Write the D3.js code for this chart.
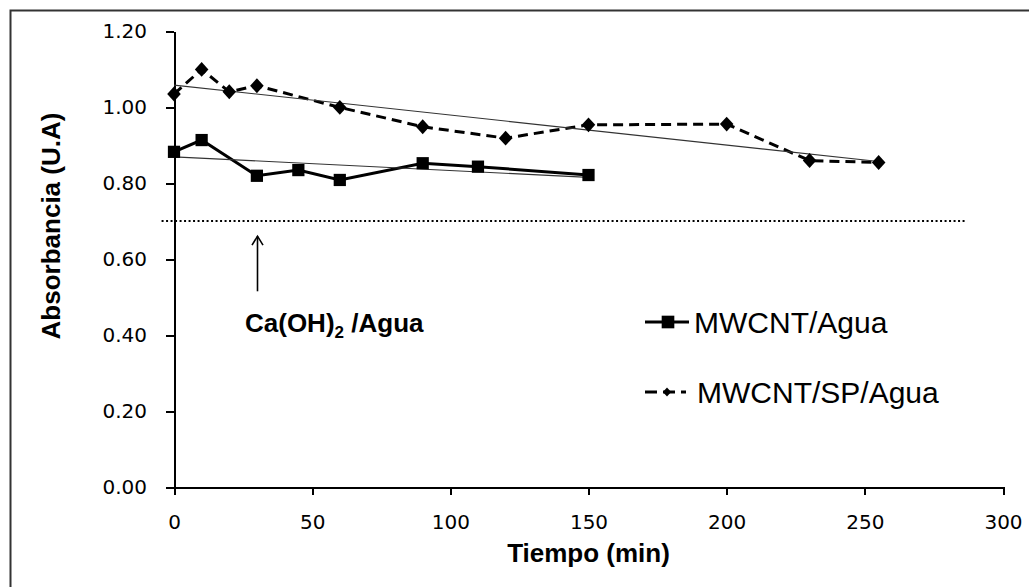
<!DOCTYPE html>
<html>
<head>
<meta charset="utf-8">
<script src="https://cdn.jsdelivr.net/npm/d3@7"></script>
<style>
    body { margin: 0; background: #fff; }
    svg { display: block; }
    .axis path, .axis line { stroke: #000; stroke-width: 2; shape-rendering: crispEdges; }
    .axis text { font-family: "DejaVu Sans", sans-serif; font-size: 20px; fill: #000; }
    .title { font-family: "Liberation Sans", Arial, sans-serif; font-weight: bold; font-size: 26px; }
</style>
</head>
<body>
<div id="chart"></div>
<script>
// MWCNT/Agua series
var timesAgua = [0, 10, 30, 45, 60, 90, 110, 150];
var absAgua = [0.882, 0.913, 0.819, 0.834, 0.808, 0.852, 0.843, 0.821];

// MWCNT/SP/Agua series
var timesSP = [0, 10, 20, 30, 60, 90, 120, 150, 200, 230, 255];
var absSP = [1.034, 1.099, 1.040, 1.056, 0.999, 0.948, 0.918, 0.953, 0.955, 0.859, 0.854];

var seriesNames = ['MWCNT/Agua', 'MWCNT/SP/Agua'];
var xTicks = [0, 50, 100, 150, 200, 250, 300];
var yTicks = [0, 0.2, 0.4, 0.6, 0.8, 1.0, 1.2];

// Ca(OH)2/Agua reference level, its dotted line span and the arrow
var refLevel = 0.70;
var refSpan = [-4.5, 287];
var arrowTime = 30;
var arrowSpan = [0.515, 0.66];

var W = 1029, H = 587;
var X0 = 174, X1 = 1003, Y0 = 487, Y1 = 31;

var x = d3.scaleLinear().domain([0, 300]).range([X0, X1]);
var y = d3.scaleLinear().domain([0, 1.2]).range([Y0, Y1]);

function zip(xs, ys) {
    return xs.map(function(t, i) { return { t: t, v: ys[i] }; });
}

// least-squares fit, like the spreadsheet's linear trendline
function linearFit(xs, ys) {
    var mx = d3.mean(xs), my = d3.mean(ys);
    var sxy = d3.sum(xs, function(t, i) { return (t - mx) * (ys[i] - my); });
    var sxx = d3.sum(xs, function(t) { return (t - mx) * (t - mx); });
    var slope = sxy / sxx;
    var icpt = my - slope * mx;
    var ext = d3.extent(xs);
    return [{ t: ext[0], v: icpt + slope * ext[0] }, { t: ext[1], v: icpt + slope * ext[1] }];
}

var series = [
    { name: seriesNames[0], points: zip(timesAgua, absAgua), fit: linearFit(timesAgua, absAgua), dash: null, diamond: false, size: 150 },
    { name: seriesNames[1], points: zip(timesSP, absSP), fit: linearFit(timesSP, absSP), dash: '10,6', diamond: true, size: 92 }
];

var svg = d3.select('#chart').append('svg')
    .attr('width', W)
    .attr('height', H);

svg.append('rect')
    .attr('width', W).attr('height', H)
    .attr('fill', '#fff');

// chart frame (right and bottom edges are off the picture)
svg.append('rect')
    .attr('x', 10.5).attr('y', 10.5)
    .attr('width', W + 20).attr('height', H + 20)
    .attr('fill', 'none')
    .attr('stroke', '#333')
    .attr('stroke-width', 2);

var line = d3.line()
    .x(function(d) { return x(d.t); })
    .y(function(d) { return y(d.v); });

// axes
svg.append('g')
    .attr('class', 'axis')
    .attr('transform', 'translate(0,' + Y0 + ')')
    .call(d3.axisBottom(x).tickValues(xTicks).tickSizeInner(8).tickSizeOuter(0).tickPadding(20));

svg.append('g')
    .attr('class', 'axis')
    .attr('transform', 'translate(' + X0 + ',0)')
    .call(d3.axisLeft(y).tickValues(yTicks).tickFormat(d3.format('.2f')).tickSizeInner(8).tickSizeOuter(0).tickPadding(19));

// dotted reference level
svg.append('line')
    .attr('x1', x(refSpan[0])).attr('x2', x(refSpan[1]))
    .attr('y1', y(refLevel)).attr('y2', y(refLevel))
    .attr('stroke', '#000')
    .attr('stroke-width', 2)
    .attr('stroke-dasharray', '2,2.5');

// arrow pointing up at the reference line
var ax = Math.round(x(arrowTime)) + 0.5;
svg.append('line')
    .attr('x1', ax).attr('x2', ax)
    .attr('y1', y(arrowSpan[0])).attr('y2', y(arrowSpan[1]))
    .attr('stroke', '#000').attr('stroke-width', 1.6);
svg.append('path')
    .attr('d', 'M' + (ax - 5.5) + ',' + (y(arrowSpan[1]) + 9) + 'L' + ax + ',' + y(arrowSpan[1]) + 'L' + (ax + 5.5) + ',' + (y(arrowSpan[1]) + 9))
    .attr('fill', 'none').attr('stroke', '#000').attr('stroke-width', 1.6);

var note = svg.append('text')
    .attr('class', 'title')
    .attr('x', 245).attr('y', 332);
note.append('tspan').text('Ca(OH)');
note.append('tspan').attr('dy', 6).attr('font-size', 17).text('2');
note.append('tspan').attr('dy', -6).text(' /Agua');

// series lines, trendlines and markers
var sg = svg.selectAll('g.series')
    .data(series)
  .enter().append('g')
    .attr('class', 'series');

sg.append('path')
    .attr('d', function(d) { return line(d.points); })
    .attr('fill', 'none')
    .attr('stroke', '#000')
    .attr('stroke-width', 3)
    .attr('stroke-dasharray', function(d) { return d.dash; });

sg.append('path')
    .attr('d', function(d) { return line(d.fit); })
    .attr('fill', 'none')
    .attr('stroke', '#333')
    .attr('stroke-width', 1.1);

// diamonds are squares turned 45deg, a bit taller than wide
function markTransform(s, px, py) {
    return 'translate(' + px + ',' + py + ')' + (s.diamond ? ' scale(1,1.1) rotate(45)' : '');
}

sg.each(function(s) {
    d3.select(this).selectAll('path.mark')
        .data(s.points)
      .enter().append('path')
        .attr('class', 'mark')
        .attr('transform', function(d) { return markTransform(s, x(d.t), y(d.v)); })
        .attr('d', d3.symbol().type(d3.symbolSquare).size(s.size))
        .attr('fill', '#000');
});

// legend
var legend = svg.selectAll('g.legend')
    .data(series)
  .enter().append('g')
    .attr('class', 'legend')
    .attr('transform', function(d, i) { return 'translate(645,' + (322 + i * 70) + ')'; });

legend.append('line')
    .attr('x1', 0).attr('x2', function(d, i) { return i ? 41 : 44; })
    .attr('y1', 0).attr('y2', 0)
    .attr('stroke', '#000')
    .attr('stroke-width', 3)
    .attr('stroke-dasharray', function(d) { return d.dash ? '12,6' : null; });

legend.append('path')
    .attr('transform', function(d, i) { return markTransform(d, i ? 22 : 23, 0); })
    .attr('d', function(d, i) { return d3.symbol().type(d3.symbolSquare).size(i ? 34 : 160)(); })
    .attr('fill', '#000');

legend.append('text')
    .attr('x', function(d, i) { return i ? 52 : 49; })
    .attr('dy', '0.36em')
    .attr('font-family', '"Liberation Sans", Arial, sans-serif')
    .attr('font-size', 30)
    .text(function(d) { return d.name; });

// axis titles
svg.append('text')
    .attr('class', 'title')
    .attr('x', (X0 + X1) / 2)
    .attr('y', 562)
    .attr('text-anchor', 'middle')
    .text('Tiempo (min)');

svg.append('text')
    .attr('class', 'title')
    .attr('transform', 'translate(60,226) rotate(-90)')
    .attr('text-anchor', 'middle')
    .text('Absorbancia (U.A)');
</script>
</body>
</html>
